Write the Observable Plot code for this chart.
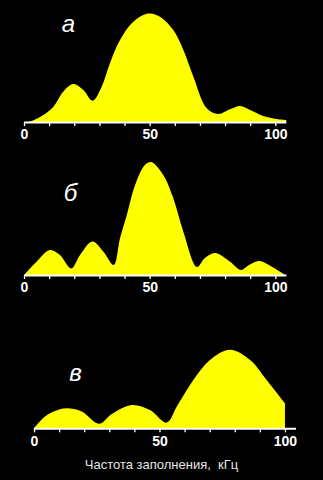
<!DOCTYPE html>
<html>
<head>
<meta charset="utf-8">
<script src="https://cdn.jsdelivr.net/npm/d3@7"></script>
<script src="https://cdn.jsdelivr.net/npm/@observablehq/plot@0.6"></script>
<style>
  html, body { margin: 0; padding: 0; background: #000; }
  #chart { width: 323px; height: 480px; background: #000; position: relative; overflow: hidden; }
  #chart svg { display: block; }
  #caption { font-family: "Liberation Sans", Arial, sans-serif; font-size: 13px; color: #e6e6e6;
             text-align: center; white-space: pre; height: 24px; line-height: 26px; width: 323px; }
</style>
</head>
<body>
<div id="chart"></div>
<script>
// ---- data ----
const freqA = [0, 2.4, 7.7, 11.7, 15.6, 19.6, 23.6, 27.3, 30.9, 34.2, 38.2, 43.5, 49.5, 54.1, 59.4, 63.4, 67.4, 72.7, 77.3, 82, 86, 90, 95.2, 100.6, 104.3];
const ampA  = [0, 0.5, 7, 15.3, 30.3, 38, 32, 21.3, 35.3, 58.7, 82, 100.3, 108.5, 105.3, 92, 72, 45.3, 13.7, 8, 12.7, 16, 12, 6, 3, 2];

const freqB = [0, 5, 10.3, 14.3, 18.8, 22.3, 27.2, 31.6, 35.7, 38.2, 40.9, 44.2, 48.1, 50.6, 55.4, 59.4, 63.4, 68.8, 72, 76, 82, 86.3, 89.5, 93.5, 98.6, 103.9];
const ampB  = [0, 13.3, 25, 20, 6.5, 20, 33.5, 23.3, 10, 36.7, 60, 90, 110, 113, 100, 76.7, 43.3, 8, 17, 22, 13.3, 5, 10, 14, 8.3, 0];

const freqC = [0, 4.4, 8.4, 13, 19, 25.9, 31, 38.9, 46.2, 52.9, 56.9, 63.5, 70.1, 78.1, 86.1, 92.7, 100];
const ampC  = [0, 11.7, 17.3, 20, 16.7, 4.5, 14.3, 23.3, 18.3, 5.7, 21.7, 48.3, 68.3, 78.5, 68.3, 48.3, 25];

const panelLabels = ["а", "б", "в"];
const tickValues = [0, 10, 20, 30, 40, 50, 60, 70, 80, 90, 100];
const tickLabels = [0, 50, 100];
const captionText = "Частота заполнения,  кГц";

// ---- drawing ----
const toRows = (xs, ys) => xs.map((x, i) => ({x, y: ys[i]}));

function panel(rows, label, cfg) {
  return Plot.plot({
    width: 323,
    height: cfg.height,
    marginLeft: cfg.ml,
    marginRight: cfg.mr,
    marginTop: cfg.mt,
    marginBottom: cfg.mb,
    style: {background: "#000", color: "#fff", fontFamily: "'Liberation Sans', Arial, sans-serif", overflow: "visible"},
    x: {domain: [0, 104.4]},
    y: {domain: [0, cfg.ymax], axis: null},
    marks: [
      Plot.areaY(rows, {x: "x", y: "y", fill: "#ffff00", curve: "catmull-rom"}),
      Plot.ruleY([0], {stroke: "#fff", strokeWidth: 2}),
      Plot.axisX({
        ticks: tickValues,
        tickFormat: d => tickLabels.includes(d) ? String(d) : "",
        tickSize: 4,
        tickPadding: 3,
        stroke: "#fff",
        strokeWidth: 1.3,
        fill: "#fff",
        fontSize: 14,
        fontWeight: "bold",
        label: null
      }),
      Plot.text([label], {
        text: d => d,
        frameAnchor: "top-left",
        dx: cfg.lx, dy: cfg.ly,
        textAnchor: "middle", lineAnchor: "middle",
        fontSize: 24, fontStyle: "italic", fill: "#fff"
      })
    ]
  });
}

const chart = document.getElementById("chart");
chart.append(panel(toRows(freqA, ampA), panelLabels[0], {height: 150, ml: 24, mr: 36.6, mt: 12, mb: 28, ymax: 110, lx: 44, ly: 12}));
chart.append(panel(toRows(freqB, ampB), panelLabels[1], {height: 152, ml: 24, mr: 36.6, mt: 10, mb: 27, ymax: 115, lx: 46, ly: 33}));
chart.append(panel(toRows(freqC, ampC), panelLabels[2], {height: 150, ml: 34, mr: 27, mt: 16.3, mb: 23.7, ymax: 110, lx: 41, ly: 54.4}));
const cap = document.createElement("div");
cap.id = "caption";
cap.textContent = captionText;
chart.append(cap);
</script>
</body>
</html>
